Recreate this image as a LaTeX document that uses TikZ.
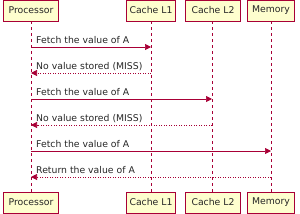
\documentclass[tikz,border=0pt]{standalone}
\usepackage{fontspec}
\setmainfont{DejaVu Sans}
\usetikzlibrary{arrows.meta}
\definecolor{pred}{HTML}{A80036}
\definecolor{pfill}{HTML}{FEFECE}
\begin{document}
\begin{tikzpicture}[x=1pt,y=-1pt,
  actor/.style={draw=pred,fill=pfill,line width=0.7pt,minimum height=21pt,inner xsep=3pt,inner ysep=0pt,font=\fontsize{9.3}{11}\selectfont,text=black!85,anchor=center},
  life/.style={draw=pred,line width=0.7pt,dash pattern=on 3pt off 3pt},
  msg/.style={draw=pred,line width=0.7pt,-{Triangle[length=6pt,width=6pt]}},
  ret/.style={draw=pred,line width=0.7pt,dash pattern=on 1pt off 1.5pt,-{Triangle[length=6pt,width=6pt]}},
  lbl/.style={font=\fontsize{9.3}{11}\selectfont,text=black!85,anchor=base west,inner sep=0pt}]
\useasboundingbox (0,0) rectangle (300,214);
% lifelines
\coordinate (pT) at (31,21); \coordinate (pB) at (31,192);
\coordinate (aT) at (151,21); \coordinate (aB) at (151,192);
\coordinate (bT) at (212,21); \coordinate (bB) at (212,192);
\coordinate (cT) at (271,21); \coordinate (cB) at (271,192);
\draw[life] (pT) -- (pB);
\draw[life] (aT) -- (aB);
\draw[life] (bT) -- (bB);
\draw[life] (cT) -- (cB);
% actors
\node[actor,minimum width=55pt] (p1) at (31,10.5) {Processor};
\node[actor,minimum width=49pt] (a1) at (151,10.5) {Cache L1};
\node[actor,minimum width=55pt] (b1) at (213,10.5) {Cache L2};
\node[actor,minimum width=47pt] (c1) at (271,10.5) {Memory};
\node[actor,minimum width=55pt] (p2) at (31,202.5) {Processor};
\node[actor,minimum width=49pt] (a2) at (151,202.5) {Cache L1};
\node[actor,minimum width=55pt] (b2) at (213,202.5) {Cache L2};
\node[actor,minimum width=47pt] (c2) at (271,202.5) {Memory};
% message points
\coordinate (m1s) at (31,47); \coordinate (m1e) at (151,47);
\coordinate (m2s) at (151,73); \coordinate (m2e) at (31,73);
\coordinate (m3s) at (31,99); \coordinate (m3e) at (212,99);
\coordinate (m4s) at (212,125); \coordinate (m4e) at (31,125);
\coordinate (m5s) at (31,151); \coordinate (m5e) at (271,151);
\coordinate (m6s) at (271,177); \coordinate (m6e) at (31,177);
\draw[msg] (m1s) -- (m1e);
\draw[ret] (m2s) -- (m2e);
\draw[msg] (m3s) -- (m3e);
\draw[ret] (m4s) -- (m4e);
\draw[msg] (m5s) -- (m5e);
\draw[ret] (m6s) -- (m6e);
\node[lbl] (t1) at (36,43) {Fetch the value of A};
\node[lbl] (t2) at (36,69) {No value stored (MISS)};
\node[lbl] (t3) at (36,95) {Fetch the value of A};
\node[lbl] (t4) at (36,121) {No value stored (MISS)};
\node[lbl] (t5) at (36,147) {Fetch the value of A};
\node[lbl] (t6) at (36,173) {Return the value of A};
\end{tikzpicture}
\end{document}
